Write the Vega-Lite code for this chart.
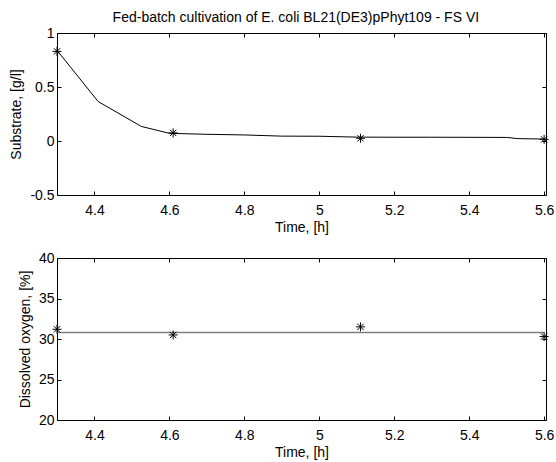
{
  "$schema": "https://vega.github.io/schema/vega-lite/v6.json",
  "padding": {"left": 9, "top": 10, "right": 0, "bottom": 0},
  "background": "white",
  "title": {
    "text": "Fed-batch cultivation of E. coli BL21(DE3)pPhyt109 - FS VI",
    "font": "Liberation Sans",
    "fontSize": 14,
    "fontWeight": "normal",
    "color": "black",
    "anchor": "middle",
    "offset": 1,
    "dx": 14
  },
  "spacing": 15,
  "datasets": {
    "subLine": [
      {"t": 4.3, "s": 0.84},
      {"t": 4.41, "s": 0.365},
      {"t": 4.525, "s": 0.135},
      {"t": 4.6, "s": 0.071},
      {"t": 4.7, "s": 0.062},
      {"t": 4.8, "s": 0.056},
      {"t": 4.9, "s": 0.045},
      {"t": 5.0, "s": 0.044},
      {"t": 5.1, "s": 0.036},
      {"t": 5.2, "s": 0.035},
      {"t": 5.3, "s": 0.035},
      {"t": 5.4, "s": 0.034},
      {"t": 5.5, "s": 0.033},
      {"t": 5.53, "s": 0.022},
      {"t": 5.6, "s": 0.018}
    ],
    "subPts": [
      {"t": 4.3, "s": 0.83},
      {"t": 4.61, "s": 0.075},
      {"t": 5.11, "s": 0.025},
      {"t": 5.6, "s": 0.015}
    ],
    "doLine": [
      {"t": 4.3, "o": 30.8},
      {"t": 4.6, "o": 30.8},
      {"t": 5.0, "o": 30.8},
      {"t": 5.3, "o": 30.8},
      {"t": 5.6, "o": 30.8}
    ],
    "doPts": [
      {"t": 4.3, "o": 31.2},
      {"t": 4.61, "o": 30.5},
      {"t": 5.11, "o": 31.5},
      {"t": 5.6, "o": 30.3}
    ]
  },
  "config": {
    "font": "Liberation Sans",
    "view": {"stroke": "black", "strokeWidth": 1},
    "axis": {
      "domain": false,
      "grid": false,
      "ticks": true,
      "tickColor": "black",
      "tickSize": -4,
      "tickWidth": 1,
      "labelFont": "Liberation Sans",
      "labelFontSize": 14,
      "labelColor": "black",
      "labelFlush": false,
      "labelOverlap": false,
      "titleFont": "Liberation Sans",
      "titleFontSize": 14,
      "titleFontWeight": "normal",
      "titleColor": "black"
    },
    "axisX": {"labelPadding": 12, "titlePadding": 3},
    "axisY": {"labelPadding": 7, "titlePadding": 6}
  },
  "vconcat": [
    {
      "width": 489,
      "height": 162,
      "resolve": {"axis": {"x": "independent", "y": "independent"}},
      "layer": [
        {
          "data": {"name": "subLine"},
          "mark": {"type": "line", "color": "black", "strokeWidth": 1},
          "encoding": {
            "x": {"field": "t", "type": "quantitative", "scale": {"domain": [4.3, 5.605], "nice": false, "zero": false},
                  "axis": {"title": "Time, [h]", "values": [4.4, 4.6, 4.8, 5, 5.2, 5.4, 5.6], "labelExpr": "'' + datum.value"}},
            "y": {"field": "s", "type": "quantitative", "scale": {"domain": [-0.5, 1], "nice": false, "zero": false},
                  "axis": {"title": "Substrate, [g/l]", "values": [-0.5, 0, 0.5, 1], "labelExpr": "'' + datum.value"}}
          }
        },
        {
          "data": {"name": "subPts"},
          "mark": {"type": "point", "shape": "M-1,0L1,0M0,-1L0,1M-0.7,-0.7L0.7,0.7M-0.7,0.7L0.7,-0.7", "filled": false, "color": "black", "strokeWidth": 1, "size": 81, "opacity": 1},
          "encoding": {
            "x": {"field": "t", "type": "quantitative", "axis": null},
            "y": {"field": "s", "type": "quantitative", "axis": null}
          }
        },
        {
          "data": {"name": "subPts"},
          "mark": {"type": "point", "opacity": 0},
          "encoding": {
            "x": {"field": "t", "type": "quantitative", "axis": {"orient": "top", "title": null, "labels": false, "values": [4.4, 4.6, 4.8, 5, 5.2, 5.4, 5.6]}},
            "y": {"field": "s", "type": "quantitative", "axis": {"orient": "right", "title": null, "labels": false, "values": [-0.5, 0, 0.5, 1]}}
          }
        }
      ]
    },
    {
      "width": 489,
      "height": 162,
      "resolve": {"axis": {"x": "independent", "y": "independent"}},
      "layer": [
        {
          "data": {"name": "doLine"},
          "mark": {"type": "line", "color": "#7f7f7f", "strokeWidth": 1.5},
          "encoding": {
            "x": {"field": "t", "type": "quantitative", "scale": {"domain": [4.3, 5.605], "nice": false, "zero": false},
                  "axis": {"title": "Time, [h]", "values": [4.4, 4.6, 4.8, 5, 5.2, 5.4, 5.6], "labelExpr": "'' + datum.value"}},
            "y": {"field": "o", "type": "quantitative", "scale": {"domain": [20, 40], "nice": false, "zero": false},
                  "axis": {"title": "Dissolved oxygen, [%]", "values": [20, 25, 30, 35, 40], "labelExpr": "'' + datum.value"}}
          }
        },
        {
          "data": {"name": "doPts"},
          "mark": {"type": "point", "shape": "M-1,0L1,0M0,-1L0,1M-0.7,-0.7L0.7,0.7M-0.7,0.7L0.7,-0.7", "filled": false, "color": "black", "strokeWidth": 1, "size": 81, "opacity": 1},
          "encoding": {
            "x": {"field": "t", "type": "quantitative", "axis": null},
            "y": {"field": "o", "type": "quantitative", "axis": null}
          }
        },
        {
          "data": {"name": "doPts"},
          "mark": {"type": "point", "opacity": 0},
          "encoding": {
            "x": {"field": "t", "type": "quantitative", "axis": {"orient": "top", "title": null, "labels": false, "values": [4.4, 4.6, 4.8, 5, 5.2, 5.4, 5.6]}},
            "y": {"field": "o", "type": "quantitative", "axis": {"orient": "right", "title": null, "labels": false, "values": [20, 25, 30, 35, 40]}}
          }
        }
      ]
    }
  ]
}
